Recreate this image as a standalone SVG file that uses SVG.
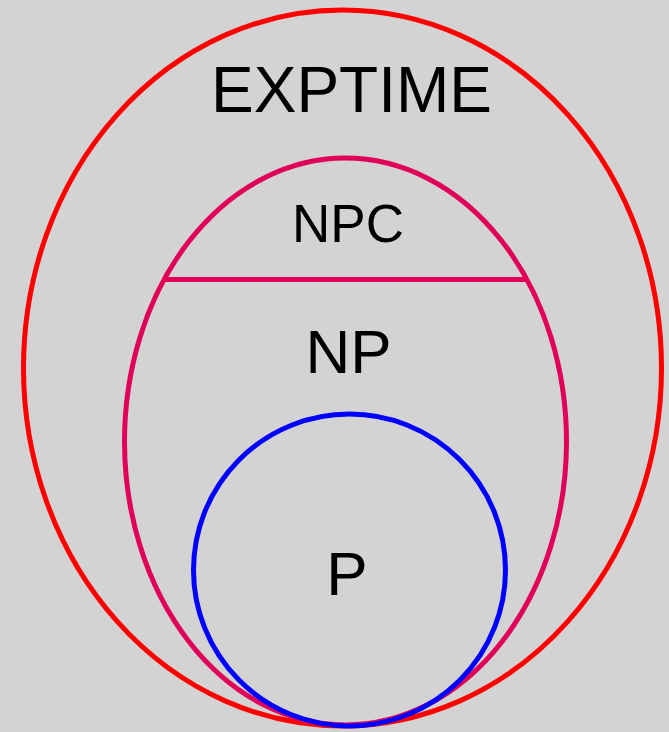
<svg xmlns="http://www.w3.org/2000/svg" width="669" height="732" viewBox="0 0 669 732">
<style>
.lbl{font-family:"Liberation Sans",Arial,sans-serif;fill:#000;text-anchor:middle}
.s{fill:none;stroke-width:5}
</style>
<rect width="669" height="732" fill="#d3d3d3"/>
<g id="exptime">
<ellipse class="s" cx="342.5" cy="368" rx="319" ry="358" stroke="#ff0000"/>
<text class="lbl" x="351.5" y="112" font-size="64">EXPTIME</text>
</g>
<g id="np">
<ellipse class="s" cx="345.5" cy="441.5" rx="221" ry="283.5" stroke="#e00058"/>
<text class="lbl" x="348.5" y="373" font-size="62">NP</text>
</g>
<g id="npc">
<line class="s" x1="164" y1="279.5" x2="527" y2="279.5" stroke="#e00058"/>
<text class="lbl" x="348" y="242" font-size="53">NPC</text>
</g>
<g id="p">
<circle class="s" cx="349.5" cy="570" r="156" stroke="#0000ff"/>
<text class="lbl" x="347" y="595" font-size="62">P</text>
</g>
<g id="connectors"/>
</svg>
